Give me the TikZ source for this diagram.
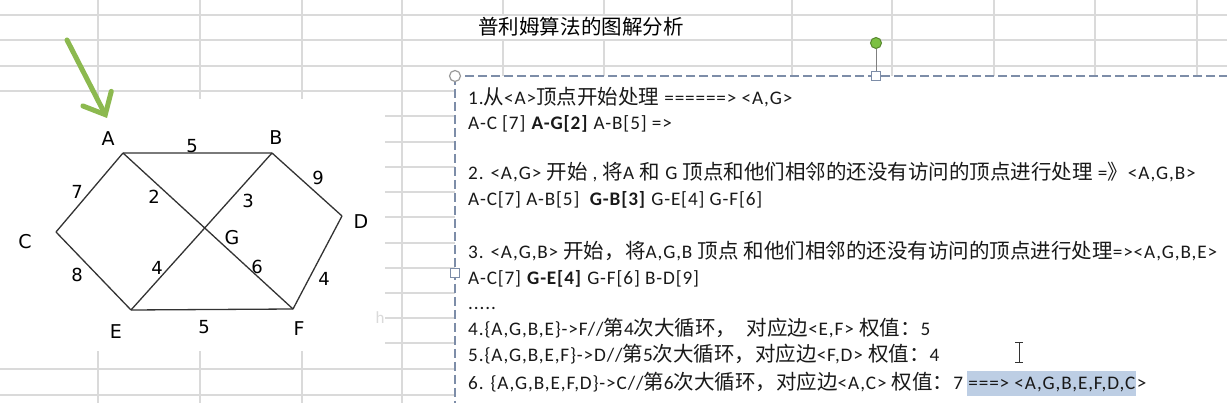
\documentclass[tikz,border=0pt]{standalone}
\usepackage{fontspec}
\setmainfont{Carlito}[LetterSpace=4.5]
\newfontfamily\cjk{Noto Sans CJK SC}[Scale=1.068]
\newfontfamily\graphfont{DejaVu Sans}
\usetikzlibrary{arrows.meta}
\newcommand\zh[1]{{\cjk #1}}
\definecolor{gridgray}{HTML}{DADADA}
\definecolor{boxblue}{HTML}{7D8DA8}
\definecolor{arrowgreen}{HTML}{8CB94F}
\definecolor{handlegreen}{HTML}{7CC142}
\definecolor{selblue}{HTML}{BDCEE4}

\begin{document}
\begin{tikzpicture}[x=1pt,y=-1pt,
  cell/.style={gridgray,line width=1.1pt},
  edge/.style={black!80,line width=1.3pt},
  vlabel/.style={font=\graphfont\fontsize{19}{19}\selectfont},
  wlabel/.style={font=\graphfont\fontsize{18}{18}\selectfont},
  textline/.style={anchor=base west,inner sep=0pt,font=\fontsize{19.2}{19.2}\selectfont,text=black!90},
  handle/.style={fill=white,draw=boxblue,line width=1.2pt}]
  \useasboundingbox (0,0) rectangle (1227,403);
  \clip (0,0) rectangle (1227,403);
  \foreach \x in {98,200,302,402,503,604,792,892,994,1095,1197}{\draw[cell] (\x,0) -- (\x,403);}
  \foreach \y in {15,40,66,91,116,142,167,192,217,243,268,293,318,343,369,395}{\draw[cell] (0,\y) -- (1227,\y);}
  \fill[white] (0,99) rectangle (385,351);
  \fill[white] (403.5,16) rectangle (790.5,39);
  \node[font=\cjk\fontsize{19.2}{19.2}\selectfont] (title) at (581,27) {普利姆算法的图解分析};
  \coordinate (A) at (123,153);
  \coordinate (B) at (272,153);
  \coordinate (C) at (56,232);
  \coordinate (D) at (342,216);
  \coordinate (E) at (131,310);
  \coordinate (F) at (293,309);
  \coordinate (G) at (intersection of A--F and B--E);
  \draw[edge] (A) -- (B) (A) -- (C) (C) -- (E) (E) -- (F) (B) -- (D) (D) -- (F);
  \draw[edge] (A) -- (G) -- (F) (B) -- (G) -- (E);
  \foreach \v/\x/\y in {A/108/139,B/276/138,C/25/242,D/361/222,E/116/332,F/299/329,G/232/238}{\node[vlabel] (l\v) at (\x,\y) {\v};}
  \foreach \n/\w/\x/\y in {ab/5/192/146,ac/7/77/192,ag/2/154/197,bg/3/248/201,bd/9/318/178,ge/4/157/268,gf/6/257/267,ce/8/77/275,ef/5/204/327,df/4/324/279}{\node[wlabel] (w\n) at (\x,\y) {\w};}
  \coordinate (tail) at (67,40);
  \coordinate (tip) at (107,118);
  \draw[arrowgreen,line width=5pt,line cap=round,-{Straight Barb[length=18pt,width=32pt,line cap=round]}] (tail) -- (tip);
  \node[text=gridgray,font=\fontsize{17}{17}\selectfont] (ghost) at (380,318) {h};
  \draw[boxblue,line width=1.5pt,dash pattern=on 9pt off 4pt,fill=white] (455,76) rectangle (1245,420);
  \draw[gray,line width=1pt] (876,49) -- (876,71);
  \draw[fill=handlegreen,draw=handlegreen!70!black,line width=1pt] (876,43) circle (5.5pt);
  \draw[handle] (871.5,71.5) rectangle (880.5,80.5);
  \draw[handle] (450.5,268.5) rectangle (459.5,277.5);
  \draw[fill=white,draw=gray!80,line width=1.2pt] (455,76) circle (5.5pt);
  \node[textline] (s1) at (468,105) {1.\zh{从}<A>\zh{顶点开始处理} ======> <A,G>};
  \node[textline] (s2) at (468,130) {A-C [7] \textbf{A-G[2]} A-B[5] =>};
  \node[textline] (s3) at (468,180) {2. <A,G> \zh{开始} , \zh{将}A \zh{和} G \zh{顶点和他们相邻的还没有访问的顶点进行处理} =\zh{》}<A,G,B>};
  \node[textline] (s4) at (468,206) {A-C[7] A-B[5] \ \textbf{G-B[3]} G-E[4] G-F[6]};
  \node[textline] (s5) at (468,259) {3. <A,G,B> \zh{开始，将}A,G,B \zh{顶点} \zh{和他们相邻的还没有访问的顶点进行处理}=><A,G,B,E>};
  \node[textline] (s6) at (468,285) {A-C[7] \textbf{G-E[4]} G-F[6] B-D[9]};
  \node[textline] (s7) at (468,310) {.....};
  \node[textline] (s8) at (468,336) {4.\{A,G,B,E\}->F//\zh{第}4\zh{次大循环，} \ \zh{对应边}<E,F> \zh{权值：}5};
  \node[textline] (s9) at (468,362) {5.\{A,G,B,E,F\}->D//\zh{第}5\zh{次大循环，对应边}<F,D> \zh{权值：}4};
  \node[textline] (s10) at (468,389) {6. \{A,G,B,E,F,D\}->C//\zh{第}6\zh{次大循环，对应边}<A,C> \zh{权值：}7};
  \node[textline,fill=selblue,text height=18pt,text depth=7pt,inner xsep=1pt,xshift=4pt] (sel) at (s10.base east) {===> <A,G,B,E,F,D,C};
  \node[textline] (s10end) at (sel.base east) {>};
  \draw[black!80,line width=1pt] (1019,343) -- (1019,363) (1015,343) -- (1023,343) (1015,363) -- (1023,363);
\end{tikzpicture}
\end{document}
